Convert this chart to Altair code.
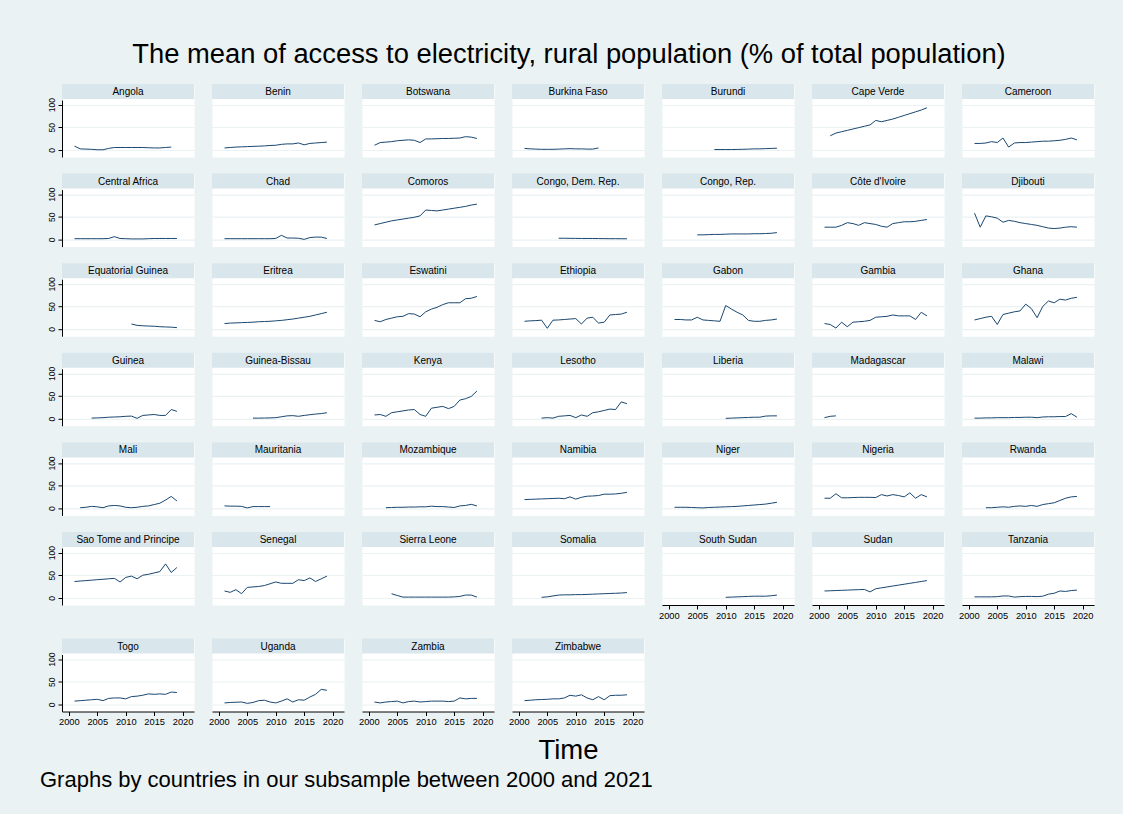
import altair as alt
import pandas as pd

TITLE = "The mean of access to electricity, rural population (% of total population)"
XTITLE = "Time"
NOTE = "Graphs by countries in our subsample between 2000 and 2021"

COUNTRIES = [
    "Angola", "Benin", "Botswana", "Burkina Faso", "Burundi", "Cape Verde", "Cameroon",
    "Central Africa", "Chad", "Comoros", "Congo, Dem. Rep.", "Congo, Rep.", "Côte d'Ivoire", "Djibouti",
    "Equatorial Guinea", "Eritrea", "Eswatini", "Ethiopia", "Gabon", "Gambia", "Ghana",
    "Guinea", "Guinea-Bissau", "Kenya", "Lesotho", "Liberia", "Madagascar", "Malawi",
    "Mali", "Mauritania", "Mozambique", "Namibia", "Niger", "Nigeria", "Rwanda",
    "Sao Tome and Principe", "Senegal", "Sierra Leone", "Somalia", "South Sudan", "Sudan", "Tanzania",
    "Togo", "Uganda", "Zambia", "Zimbabwe",
]

FIRST_YEAR = [
    2001, 2001, 2001, 2001, 2008, 2002, 2001,
    2001, 2001, 2001, 2007, 2005, 2001, 2001,
    2011, 2001, 2001, 2001, 2001, 2001, 2001,
    2004, 2006, 2001, 2004, 2010, 2001, 2001,
    2002, 2001, 2003, 2001, 2001, 2001, 2003,
    2001, 2001, 2004, 2004, 2010, 2001, 2001,
    2001, 2001, 2001, 2001,
]

VALUES = [
    [8, 2, 1.5, 1, 0, 0, 3, 5, 5, 5, 5, 5, 5, 4.5, 4, 4, 5, 6],
    [4, 5, 6, 6.5, 7, 7.5, 8, 8.5, 9.5, 10, 12, 13, 13, 15, 11, 14, 15, 16, 17],
    [10, 16, 17, 18, 20, 21, 22, 21, 16, 24, 24, 24.5, 25, 25, 25.5, 26, 29, 28, 25],
    [3, 2, 1.5, 1, 1, 1, 1.5, 2, 2.5, 2, 2, 1.5, 1.5, 4],
    [0.5, 0.5, 0.5, 0.5, 0.8, 1, 1.5, 2, 2, 2.5, 3, 3.5],
    [31, 37, 40, 43, 46, 49, 52, 55, 65, 62, 65, 68, 72, 76, 80, 84, 88, 93],
    [14, 14, 15, 18, 16, 26, 6, 15, 16, 16, 17, 18, 19, 19, 20, 21, 23, 26, 22],
    [1.5, 1.5, 1.5, 1.5, 1.5, 1.5, 2, 6, 2, 1.5, 1, 1, 1, 1.5, 2, 2, 2, 2, 2],
    [1.5, 1.5, 1.5, 1.5, 1.5, 1.5, 1.5, 1.5, 1.5, 2, 9, 3, 3, 2.5, 0, 4, 5, 5, 2],
    [32, 35, 38, 41, 43, 45, 47, 49, 52, 65, 64, 63, 65, 67, 69, 71, 73, 76, 78],
    [2.5, 2.5, 2.3, 2.2, 2, 2, 1.9, 1.8, 1.6, 1.5, 1.5, 1.4, 1.3],
    [10, 10, 10.5, 11, 11, 11.5, 12, 12, 12, 12, 12.5, 12.5, 13, 13.5, 15],
    [27, 27, 27, 31, 37, 35, 31, 37, 35, 33, 29, 27, 35, 37, 39, 39, 40, 42, 44],
    [58, 27, 52, 50, 47, 38, 42, 40, 37, 35, 33, 31, 28, 25, 24, 25, 27, 28, 27],
    [11, 8, 7, 6.5, 6, 5, 4.5, 4, 3],
    [12, 13, 13.5, 14, 14.5, 15, 16, 16.5, 17, 18, 19, 20.5, 22, 24, 26, 28, 31, 34, 37],
    [19, 16, 21, 24, 27, 28, 34, 33, 27, 38, 44, 48, 54, 58, 58, 58, 67, 68, 72],
    [17, 18, 18.5, 19.5, 1.5, 19.5, 20, 21, 22, 23, 11, 24, 26, 13, 15, 31, 32, 33, 37],
    [21, 21, 20, 20, 26, 20, 19, 18, 17, 52, 44, 37, 31, 19, 17, 17, 19, 20, 22],
    [12, 10, 2, 15, 5, 15, 16, 17, 19, 26, 27, 28, 31, 29, 29, 29, 21, 37, 29],
    [20, 23, 26, 28, 10, 32, 35, 38, 40, 55, 45, 25, 50, 62, 58, 66, 64, 68, 70],
    [1, 1.5, 2, 3, 3.5, 4, 5, 5.5, 0.5, 7, 8, 9, 7, 7, 20, 16],
    [1, 1, 1.2, 1.5, 2, 4, 6, 6.5, 5, 7, 8.5, 10, 11, 13],
    [8, 9, 5, 13, 15, 17, 19, 20, 9, 5, 23, 25, 27, 22, 27, 41, 44, 49, 61],
    [1, 2, 1, 5, 6, 7, 2, 8, 5, 13, 15, 18, 21, 20, 37, 33],
    [0.5, 1, 1.5, 2, 2.5, 3, 3, 5.5, 6, 6],
    [2, 5, 6],
    [1, 1, 1.5, 1.5, 2, 2, 2, 2.5, 2.5, 3, 3, 2, 3.5, 4, 4, 4.5, 4.5, 11, 3],
    [1, 2, 4, 3, 1, 5, 6, 5, 2, 1, 2, 4, 5, 8, 11, 18, 26, 16],
    [5, 4.5, 4.5, 4, 0.5, 3.5, 3.5, 3.5, 3.5],
    [1, 1.5, 2, 2, 2.5, 2.5, 3, 3, 4.5, 3.5, 3.5, 2.5, 1.5, 5, 6, 8.5, 5],
    [19, 19.5, 20, 20.5, 21, 21.5, 22, 21, 25, 20, 24, 26.5, 27, 28, 31, 31, 31.5, 33, 35],
    [2, 2, 2, 1.5, 1, 0.5, 1.5, 2, 2.5, 3, 3.5, 4, 5, 6, 7, 8, 9, 11, 13],
    [22, 22, 32, 23, 23, 23.5, 24, 24, 24, 23.5, 30, 27, 30, 28, 25, 34, 22, 30, 25],
    [1, 1, 2, 3, 2, 4, 5, 4, 6, 4, 8, 10, 12, 17, 22, 25, 26],
    [36, 37, 38, 39, 40, 41, 42, 43, 35, 45, 48, 42, 50, 52, 55, 58, 75, 56, 67],
    [15, 12, 18, 9, 23, 24, 25, 27, 31, 35, 32, 32, 32, 40, 38, 44, 36, 42, 48],
    [9, 5, 1.5, 1.5, 1.5, 1.5, 1.5, 1.5, 1.5, 1.5, 1.5, 2, 3, 6, 6, 1.5],
    [1, 2, 4, 6, 6.5, 6.5, 7, 7, 7.5, 8, 8.5, 9, 9.5, 10, 10.5, 11.5],
    [1, 1.5, 2, 2.5, 3, 3.5, 3.5, 3.5, 4.5, 6],
    [15, 15.5, 16, 16.5, 17, 17.5, 18, 18.5, 13, 20, 22, 24, 26, 28, 30, 32, 34, 36, 38],
    [2, 2, 2, 2, 2.5, 4, 4, 1.5, 2.5, 3, 3, 2.5, 3.5, 8, 10, 15, 14, 16, 17],
    [7, 8, 9, 10, 11, 8, 13, 14, 14, 12, 17, 18, 20, 23, 22, 23, 22, 27, 26],
    [3, 4, 4.5, 5, 2, 4, 8, 9, 5, 3, 7, 12, 5, 10, 9, 16, 22, 33, 31],
    [5, 3, 5, 6, 7, 3, 6, 7, 5, 6, 7, 7, 7, 6, 7, 14, 12, 13, 13],
    [8, 9, 10, 10.5, 11, 12, 12, 14, 20, 18, 21, 14, 10, 17, 10, 19, 20, 20, 21],
]

X_TICKS = [2000, 2005, 2010, 2015, 2020]
Y_TICKS = [0, 50, 100]

BG = "#EAF2F3"
STRIP_BG = "#D9E6EB"
LINE = "#1A476F"
GRID = "#EAF2F3"
FONT = "Liberation Sans"

PW, PH, STRIP = 132, 73, 15
NCOL = 7
N = len(COUNTRIES)


def panel(idx):
    name = COUNTRIES[idx]
    first = FIRST_YEAR[idx]
    vals = VALUES[idx]
    show_y = idx % NCOL == 0
    show_x = idx + NCOL >= N
    df = pd.DataFrame({"year": list(range(first, first + len(vals))), "value": vals})

    if show_x:
        xaxis = alt.Axis(values=X_TICKS, format="d", labelFontSize=9.3, labelFont=FONT,
                         tickSize=4, labelPadding=2, domainColor="black", tickColor="black",
                         labelColor="black", grid=False, title=None)
    else:
        xaxis = None
    if show_y:
        yaxis = alt.Axis(values=Y_TICKS, labelAngle=270, labelFontSize=8.5, labelFont=FONT,
                         tickSize=4, labelPadding=2, domainColor="black", tickColor="black",
                         labelColor="black", grid=True, gridColor=GRID, gridWidth=1.2, title=None)
    else:
        yaxis = alt.Axis(values=Y_TICKS, labels=False, ticks=False, domain=False,
                         grid=True, gridColor=GRID, gridWidth=1.2, title=None)

    line = alt.Chart(df).mark_line(color=LINE, strokeWidth=1).encode(
        x=alt.X("year:Q", scale=alt.Scale(domain=[1998.8, 2022], nice=False, zero=False), axis=xaxis),
        y=alt.Y("value:Q", scale=alt.Scale(domain=[-16, 110.2], range=[PH, STRIP + 1], nice=False, zero=False), axis=yaxis),
    )
    deco = alt.Data(values=[{"n": name}])
    strip = alt.Chart(deco).mark_rect(color=STRIP_BG).encode(
        x=alt.value(0), x2=alt.value(PW), y=alt.value(0), y2=alt.value(STRIP)
    )
    label = alt.Chart(deco).mark_text(fontSize=10, font=FONT, color="black", baseline="middle").encode(
        x=alt.value(PW / 2), y=alt.value(STRIP / 2 + 0.5), text="n:N"
    )
    return alt.layer(strip, label, line).properties(
        width=PW, height=PH, view=alt.ViewBackground(fill="white", stroke="transparent")
    )


panels = [panel(i) for i in range(N)]
rows = [alt.hconcat(*panels[i:i + NCOL], spacing=18, bounds="flush") for i in range(0, N, NCOL)]
upper = alt.vconcat(*rows[:-1], spacing=14.6)
grid = alt.vconcat(upper, rows[-1], spacing=16.5)

bottom = alt.layer(
    alt.Chart(alt.Data(values=[{"t": XTITLE}])).mark_text(
        fontSize=27.5, font=FONT, align="center", baseline="alphabetic", color="black"
    ).encode(x=alt.value(506.5), y=alt.value(29.5), text="t:N"),
    alt.Chart(alt.Data(values=[{"t": NOTE}])).mark_text(
        fontSize=22, font=FONT, align="left", baseline="alphabetic", color="black"
    ).encode(x=alt.value(-22), y=alt.value(57.5), text="t:N"),
).properties(width=1040, height=62, view=alt.ViewBackground(fill="transparent", stroke="transparent"))

chart = alt.vconcat(grid, bottom, spacing=0).properties(
    title=alt.TitleParams(TITLE, fontSize=27.35, font=FONT, anchor="middle", color="black",
                          fontWeight="normal", offset=15.5, dx=-2),
    padding={"left": 39, "top": 40, "right": 20, "bottom": 22},
    background=BG,
)

chart.save("out.html", embed_options={"renderer": "svg", "actions": False})
